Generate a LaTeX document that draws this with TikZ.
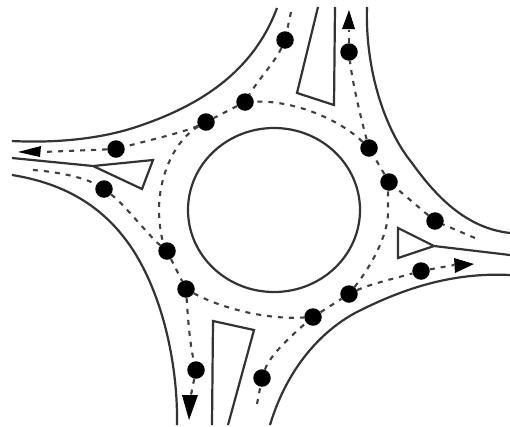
\documentclass[tikz,border=0pt]{standalone}
\tikzset{
 x=1pt,y=-1pt,
 road/.style={line width=2.2pt,draw=black!80,line join=miter},
 route/.style={line width=2.1pt,draw=black!75,dash pattern=on 5pt off 6pt},
 car/.style={circle,fill=black,inner sep=0pt,minimum size=17.5pt},
 tipmark/.style={fill=black,draw=none}
}
\begin{document}
\begin{tikzpicture}
\useasboundingbox[fill=white] (0,0) rectangle (510,426);
% central island
\draw[road] (274,210) ellipse [x radius=86,y radius=82];
% kerbs
\draw[road] (12,141) .. controls (50,143) and (95,140) .. (133,128) .. controls (195,108) and (252,75) .. (277,8);
\draw[road] (367,7) .. controls (365,70) and (385,130) .. (412,163) .. controls (435,195) and (465,228) .. (510,233);
\draw[road] (510,275) .. controls (450,272) and (400,290) .. (355,313) .. controls (315,335) and (285,375) .. (270,425);
\draw[road] (177,425) .. controls (178,370) and (165,300) .. (133,250) .. controls (110,215) and (75,185) .. (12,175);
% splitter islands
\draw[road] (12,158) -- (93,166) -- (153,160) -- (142,189) -- (93,166);
\draw[road] (318,7) -- (297,93) -- (334,105) -- (335,7);
\draw[road] (510,255) -- (434,246) -- (398,228) -- (398,258) -- (434,246);
\draw[road] (212,425) -- (213,321) -- (254,330) -- (228,425);
% cars
\node[car] (a1) at (285,40) {};
\node[car] (a2) at (245,102) {};
\node[car] (a3) at (206,122) {};
\node[car] (a4) at (116,149) {};
\node[car] (b1) at (104,189) {};
\node[car] (b2) at (167,251) {};
\node[car] (b3) at (186,289) {};
\node[car] (b4) at (196,370) {};
\node[car] (c1) at (262,378) {};
\node[car] (c2) at (313,317) {};
\node[car] (c3) at (349,294) {};
\node[car] (c4) at (421,271) {};
\node[car] (d1) at (435,221) {};
\node[car] (d2) at (389,182) {};
\node[car] (d3) at (369,148) {};
\node[car] (d4) at (349,52) {};
% free ends
\coordinate (sa) at (291,12);
\coordinate (ea) at (42,152);
\coordinate (sb) at (33,170);
\coordinate (eb) at (191,395);
\coordinate (sc) at (257,404);
\coordinate (ec) at (454,265);
\coordinate (sd) at (475,238);
\coordinate (ed) at (349,30);
% routes
\draw[route] (sa) -- (a1);
\draw[route] (a1) .. controls (275,62) and (258,80) .. (a2);
\draw[route] (a2) -- (a3);
\draw[route] (a3) .. controls (185,132) and (150,140) .. (a4);
\draw[route] (a4) -- (ea);
\draw[route] (sb) .. controls (60,172) and (85,178) .. (b1);
\draw[route] (b1) .. controls (125,205) and (148,235) .. (b2);
\draw[route] (b2) -- (b3);
\draw[route] (b3) .. controls (188,320) and (190,345) .. (b4);
\draw[route] (b4) -- (eb);
\draw[route] (sc) -- (c1);
\draw[route] (c1) .. controls (270,355) and (292,335) .. (c2);
\draw[route] (c2) -- (c3);
\draw[route] (c3) .. controls (370,284) and (400,277) .. (c4);
\draw[route] (c4) -- (ec);
\draw[route] (sd) -- (d1);
\draw[route] (d1) -- (d2);
\draw[route] (d2) -- (d3);
\draw[route] (d3) .. controls (360,115) and (352,80) .. (d4);
\draw[route] (d4) -- (ed);
% circulating lane
\draw[route] (a3) .. controls (175,140) and (159,175) .. (159,210) .. controls (159,225) and (162,240) .. (b2);
\draw[route] (b3) .. controls (215,305) and (260,320) .. (c2);
\draw[route] (c3) .. controls (372,265) and (388,235) .. (388,212) .. controls (388,202) and (388,192) .. (d2);
\draw[route] (d3) .. controls (340,120) and (295,100) .. (a2);
% arrow heads
\fill[tipmark] (18,152) -- (41,146) -- (40,157) -- cycle;
\fill[tipmark] (349,10) -- (342,29) -- (355,29) -- cycle;
\fill[tipmark] (189,420) -- (182,395) -- (198,395) -- cycle;
\fill[tipmark] (474,264) -- (454,258) -- (455,273) -- cycle;
\end{tikzpicture}
\end{document}
